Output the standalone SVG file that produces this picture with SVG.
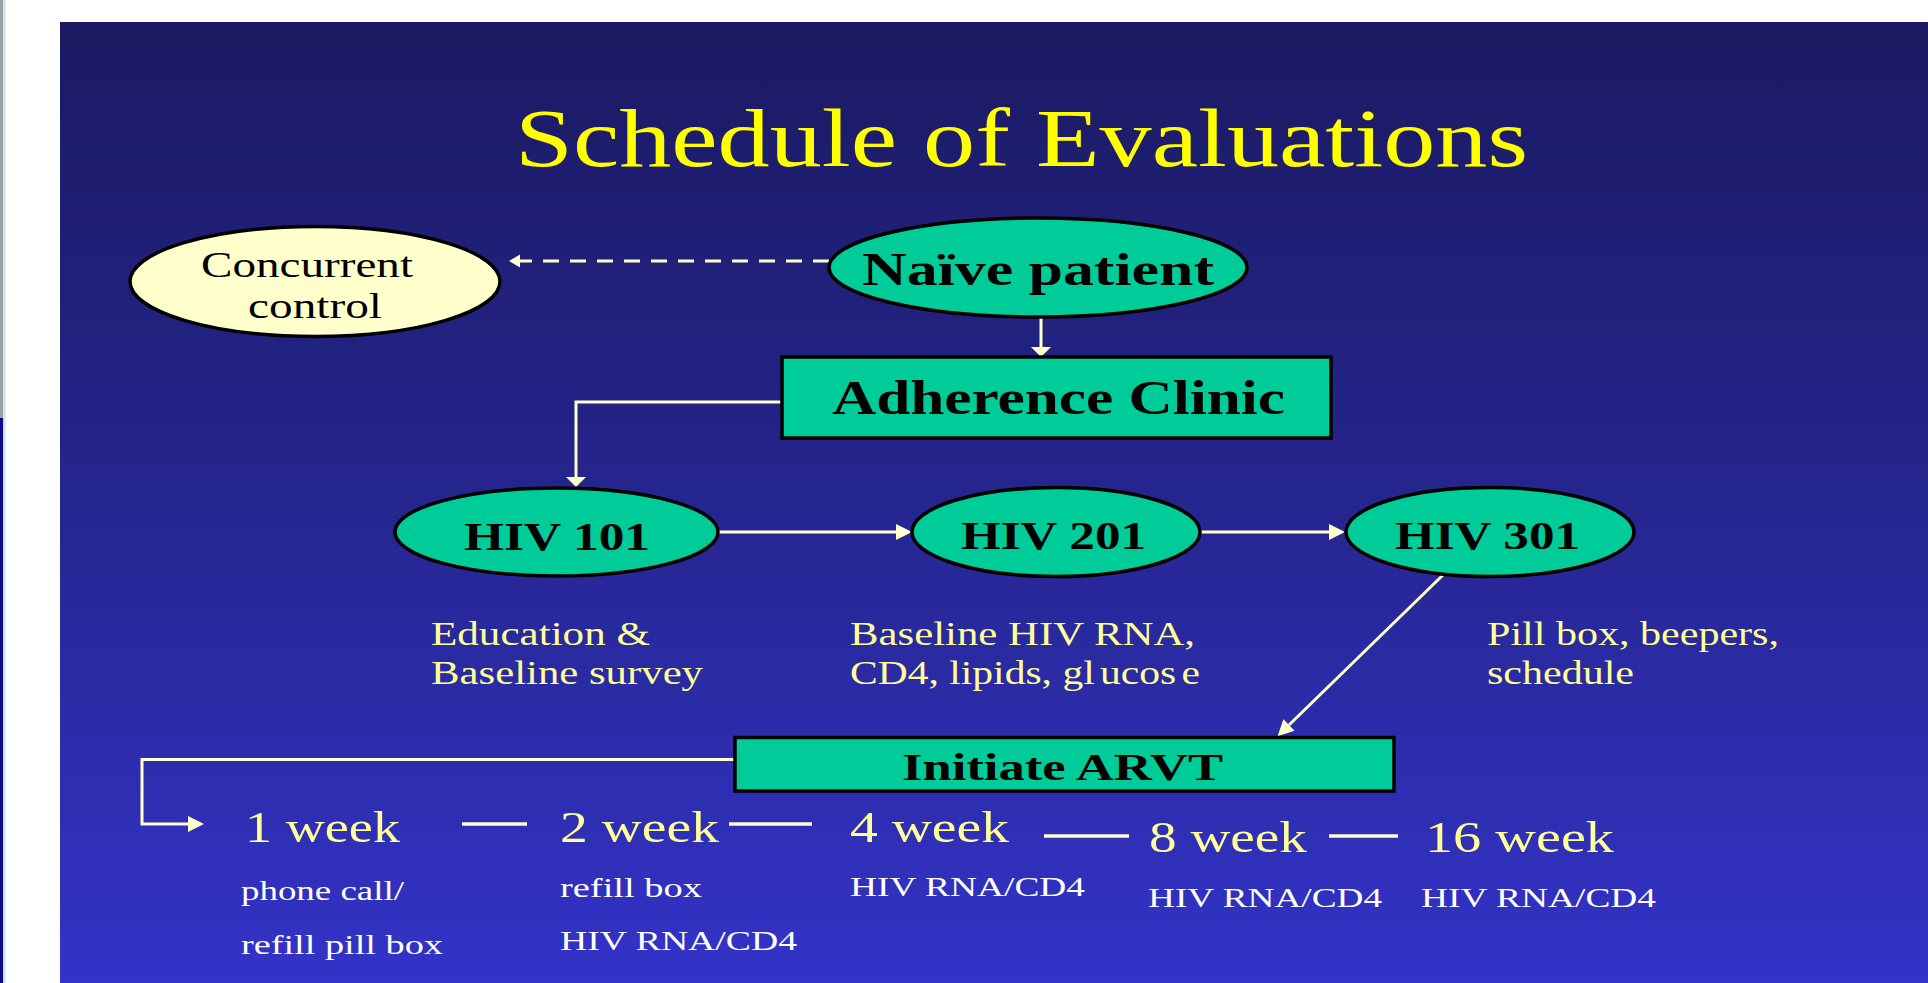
<svg xmlns="http://www.w3.org/2000/svg" width="1928" height="983" viewBox="0 0 1928 983">
  <defs>
    <linearGradient id="bg" x1="0" y1="0" x2="0" y2="1">
      <stop offset="0" stop-color="#1b1a62"/>
      <stop offset="0.45" stop-color="#24248a"/>
      <stop offset="1" stop-color="#3333c8"/>
    </linearGradient>
    <marker id="ah" markerUnits="userSpaceOnUse" markerWidth="17" markerHeight="17" refX="0" refY="8" orient="auto" overflow="visible">
      <path d="M0,0 L16,8 L0,16 z" fill="#ffffcc"/>
    </marker>
    <marker id="as" markerUnits="userSpaceOnUse" markerWidth="12" markerHeight="14" refX="0" refY="6.5" orient="auto" overflow="visible">
      <path d="M0,0 L11,6.5 L0,13 z" fill="#ffffcc"/>
    </marker>
    <marker id="av" markerUnits="userSpaceOnUse" markerWidth="11" markerHeight="20" refX="0" refY="10" orient="auto" overflow="visible">
      <path d="M0,0 L10,10 L0,20 z" fill="#ffffcc"/>
    </marker>
  </defs>
  <style>
    .ell { stroke: #000; stroke-width: 3.5; }
    .green { fill: #00cc99; }
    .pale { fill: #ffffcc; }
    .conn { fill: none; stroke: #ffffcc; stroke-width: 3; }
    .dash { stroke-dasharray: 16 11; }
    .em { stroke: #ffffcc; stroke-width: 3.5; }
    text { font-family: "Liberation Serif", "Times New Roman", serif; }
    .bold { font-weight: bold; fill: #000; }
    .title { fill: #ffff00; font-size: 82px; }
    .desc { fill: #ffff99; font-size: 33px; }
    .week { fill: #ffff99; font-size: 44px; }
    .small { fill: #ffffff; font-size: 27px; }
  </style>

  <!-- page -->
  <rect x="0" y="0" width="1928" height="983" fill="#ffffff"/>
  <rect x="0" y="0" width="3.3" height="418" fill="#a0a0a0"/>
  <rect x="0" y="418" width="3.3" height="565" fill="#0a0a8a"/>
  <rect x="3.3" y="0" width="2.4" height="983" fill="#d0e6f7"/>
  <rect x="60" y="22" width="1868" height="961" fill="url(#bg)"/>

  <text class="title" x="515" y="166" textLength="1013" lengthAdjust="spacingAndGlyphs">Schedule of Evaluations</text>

  <g id="connectors">
    <path class="conn dash" d="M829,261 H520" marker-end="url(#as)"/>
    <path class="conn" d="M1041,317 V347" marker-end="url(#av)"/>
    <path class="conn" d="M782,402 H576 V477" marker-end="url(#av)"/>
    <path class="conn" d="M718,532 H896" marker-end="url(#ah)"/>
    <path class="conn" d="M1200,532 H1329" marker-end="url(#ah)"/>
    <path class="conn" d="M1444,574 L1289,725" marker-end="url(#ah)"/>
    <path class="conn" d="M735,759.5 H142 V824 H188" marker-end="url(#ah)"/>
    <line class="em" x1="462" y1="824" x2="527" y2="824"/>
    <line class="em" x1="729" y1="824" x2="812" y2="824"/>
    <line class="em" x1="1044" y1="836" x2="1129" y2="836"/>
    <line class="em" x1="1329" y1="836" x2="1398" y2="836"/>
  </g>

  <g id="concurrent-control">
    <ellipse class="ell pale" cx="315" cy="281.5" rx="185" ry="55"/>
    <text x="201" y="277" font-size="36" fill="#000" textLength="212" lengthAdjust="spacingAndGlyphs">Concurrent</text>
    <text x="248" y="318" font-size="36" fill="#000" textLength="134" lengthAdjust="spacingAndGlyphs">control</text>
  </g>

  <g id="naive-patient">
    <ellipse class="ell green" cx="1038" cy="267.5" rx="209" ry="49.5"/>
    <text class="bold" x="862" y="285" font-size="47" textLength="352" lengthAdjust="spacingAndGlyphs">Naïve patient</text>
  </g>

  <g id="adherence-clinic">
    <rect class="ell green" x="782" y="357" width="549" height="81"/>
    <text class="bold" x="832" y="414" font-size="49" textLength="453" lengthAdjust="spacingAndGlyphs">Adherence Clinic</text>
  </g>

  <g id="hiv101">
    <ellipse class="ell green" cx="556.5" cy="532" rx="161.5" ry="44"/>
    <text class="bold" x="464" y="550" font-size="41" textLength="186" lengthAdjust="spacingAndGlyphs">HIV 101</text>
  </g>

  <g id="hiv201">
    <ellipse class="ell green" cx="1056" cy="532" rx="144" ry="44.5"/>
    <text class="bold" x="961" y="549" font-size="41" textLength="185" lengthAdjust="spacingAndGlyphs">HIV 201</text>
  </g>

  <g id="hiv301">
    <ellipse class="ell green" cx="1490" cy="532" rx="144" ry="44.5"/>
    <text class="bold" x="1395" y="549" font-size="41" textLength="185" lengthAdjust="spacingAndGlyphs">HIV 301</text>
  </g>

  <g id="hiv101-note">
    <text class="desc" x="431" y="645" textLength="219" lengthAdjust="spacingAndGlyphs">Education &amp;</text>
    <text class="desc" x="431" y="684" textLength="272" lengthAdjust="spacingAndGlyphs">Baseline survey</text>
  </g>

  <g id="hiv201-note">
    <text class="desc" x="850" y="645" textLength="345" lengthAdjust="spacingAndGlyphs">Baseline HIV RNA,</text>
    <text class="desc" x="850" y="684" textLength="350" lengthAdjust="spacingAndGlyphs">CD4, lipids, gl<tspan word-spacing="-4">&#160;ucos&#160;e</tspan></text>
  </g>

  <g id="hiv301-note">
    <text class="desc" x="1487" y="645" textLength="292" lengthAdjust="spacingAndGlyphs">Pill box, beepers,</text>
    <text class="desc" x="1487" y="684" textLength="147" lengthAdjust="spacingAndGlyphs">schedule</text>
  </g>

  <g id="initiate-arvt">
    <rect class="ell green" x="735" y="737.5" width="659" height="53.5"/>
    <text class="bold" x="902" y="780" font-size="38" textLength="321" lengthAdjust="spacingAndGlyphs">Initiate ARVT</text>
  </g>

  <g id="week1">
    <text class="week" x="245" y="842" textLength="155" lengthAdjust="spacingAndGlyphs">1 week</text>
    <text class="small" x="241" y="900" textLength="163" lengthAdjust="spacingAndGlyphs">phone call/</text>
    <text class="small" x="241" y="954" textLength="202" lengthAdjust="spacingAndGlyphs">refill pill box</text>
  </g>

  <g id="week2">
    <text class="week" x="560" y="842" textLength="159" lengthAdjust="spacingAndGlyphs">2 week</text>
    <text class="small" x="560" y="897" textLength="142" lengthAdjust="spacingAndGlyphs">refill box</text>
    <text class="small" x="560" y="950" textLength="237" lengthAdjust="spacingAndGlyphs">HIV RNA/CD4</text>
  </g>

  <g id="week4">
    <text class="week" x="850" y="842" textLength="159" lengthAdjust="spacingAndGlyphs">4 week</text>
    <text class="small" x="850" y="896" textLength="235" lengthAdjust="spacingAndGlyphs">HIV RNA/CD4</text>
  </g>

  <g id="week8">
    <text class="week" x="1149" y="852" textLength="158" lengthAdjust="spacingAndGlyphs">8 week</text>
    <text class="small" x="1148" y="907" textLength="234" lengthAdjust="spacingAndGlyphs">HIV RNA/CD4</text>
  </g>

  <g id="week16">
    <text class="week" x="1425" y="852" textLength="189" lengthAdjust="spacingAndGlyphs">16 week</text>
    <text class="small" x="1421" y="907" textLength="235" lengthAdjust="spacingAndGlyphs">HIV RNA/CD4</text>
  </g>
</svg>
